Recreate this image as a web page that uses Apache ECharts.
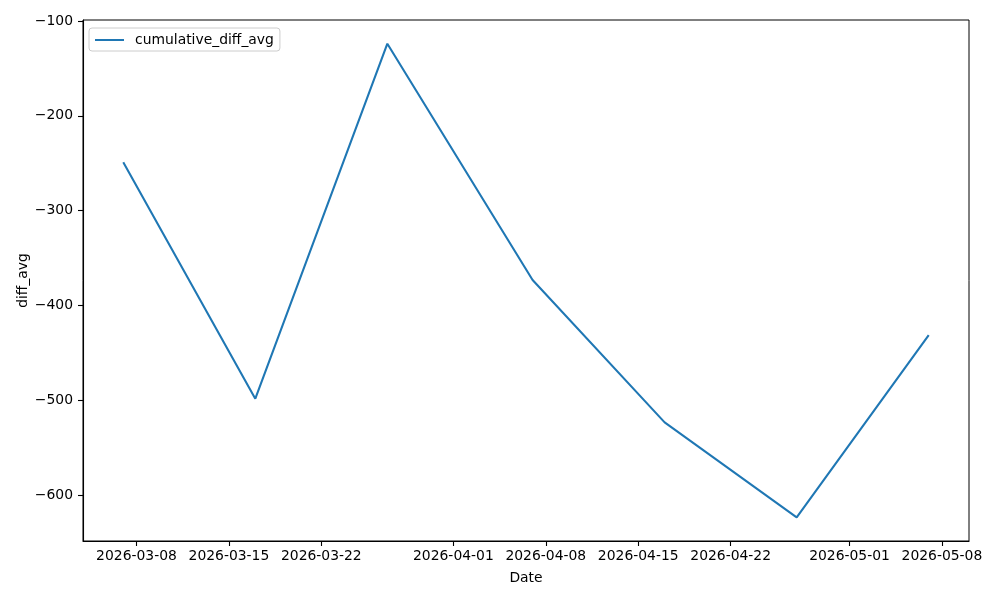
<!DOCTYPE html>
<html>
<head>
<meta charset="utf-8">
<script src="https://cdn.jsdelivr.net/npm/echarts@6/dist/echarts.min.js"></script>
<style>
html,body{margin:0;padding:0;background:#fff;}
#chart{width:1000px;height:600px;}
</style>
</head>
<body>
<div id="chart"></div>
<script>
// ---- data ----
const dates = ['2026-03-07','2026-03-17','2026-03-27','2026-04-07','2026-04-17','2026-04-27','2026-05-07'];
const diffAvg = [-249, -498, -124, -373, -523, -623, -431];
const xTickLabels = ['2026-03-08','2026-03-15','2026-03-22','2026-04-01','2026-04-08','2026-04-15','2026-04-22','2026-05-01','2026-05-08'];
const yTicks = [-600, -500, -400, -300, -200, -100];
const seriesName = 'cumulative_diff_avg';

function toTs(s){ const p = s.split('-').map(Number); return new Date(p[0], p[1]-1, p[2]).getTime(); }
function pad(n){ return (n<10?'0':'')+n; }
function fmtDate(v){ const d = new Date(v); return d.getFullYear()+'-'+pad(d.getMonth()+1)+'-'+pad(d.getDate()); }

const xs = dates.map(toTs);
const xMinD = Math.min(...xs), xMaxD = Math.max(...xs);
const xSpan = xMaxD - xMinD;
const yMinD = Math.min(...diffAvg), yMaxD = Math.max(...diffAvg);
const ySpan = yMaxD - yMinD;

const font = 'DejaVu Sans';
const fs = 13.9;

const chart = echarts.init(document.getElementById('chart'));
chart.setOption({
  animation: false,
  backgroundColor: '#fff',
  textStyle: { fontFamily: font },
  grid: {
    left: 83, right: 31, top: 20, bottom: 59,
    containLabel: false, outerBoundsMode: 'none',
    show: true, borderColor: '#000', borderWidth: 1, backgroundColor: 'transparent'
  },
  legend: {
    show: true,
    left: 89, top: 28,
    orient: 'vertical',
    data: [{ name: seriesName, icon: 'rect' }],
    itemWidth: 29, itemHeight: 2,
    padding: [5, 6, 4, 6],
    borderColor: '#cccccc', borderWidth: 1, borderRadius: 3,
    backgroundColor: 'rgba(255,255,255,0.8)',
    textStyle: { fontFamily: font, fontSize: fs, color: '#000', padding: [0, 0, 0, 6] }
  },
  xAxis: {
    type: 'value',
    scale: true,
    min: xMinD - 0.05 * xSpan,
    max: xMaxD + 0.05 * xSpan,
    name: 'Date',
    nameLocation: 'middle',
    nameGap: 30,
    nameMoveOverlap: false,
    nameTextStyle: { fontFamily: font, fontSize: fs, color: '#000' },
    axisLine: { show: true, onZero: false, lineStyle: { color: '#000', width: 1.1 } },
    axisTick: { show: true, inside: false, length: 5, lineStyle: { color: '#000', width: 1.1 },
                customValues: xTickLabels.map(toTs) },
    axisLabel: { show: true, margin: 8, fontFamily: font, fontSize: fs, color: '#000',
                 customValues: xTickLabels.map(toTs),
                 formatter: function(v){ return fmtDate(v); } },
    splitLine: { show: false }
  },
  yAxis: {
    type: 'value',
    min: yMinD - 0.05 * ySpan,
    max: yMaxD + 0.05 * ySpan,
    name: 'diff_avg',
    nameLocation: 'middle',
    nameGap: 53,
    nameMoveOverlap: false,
    nameTextStyle: { fontFamily: font, fontSize: fs, color: '#000' },
    axisLine: { show: true, onZero: false, lineStyle: { color: '#000', width: 1.1 } },
    axisTick: { show: true, inside: false, length: 5, lineStyle: { color: '#000', width: 1.1 },
                customValues: yTicks },
    axisLabel: { show: true, margin: 10, fontFamily: font, fontSize: fs, color: '#000',
                 customValues: yTicks,
                 formatter: function(v){ return String(v).replace('-', '\u2212'); } },
    splitLine: { show: false }
  },
  series: [{
    name: seriesName,
    type: 'line',
    data: xs.map((t, i) => [t, diffAvg[i]]),
    symbol: 'none',
    lineStyle: { color: '#1f77b4', width: 2.08 },
    itemStyle: { color: '#1f77b4' }
  }]
});
</script>
</body>
</html>
